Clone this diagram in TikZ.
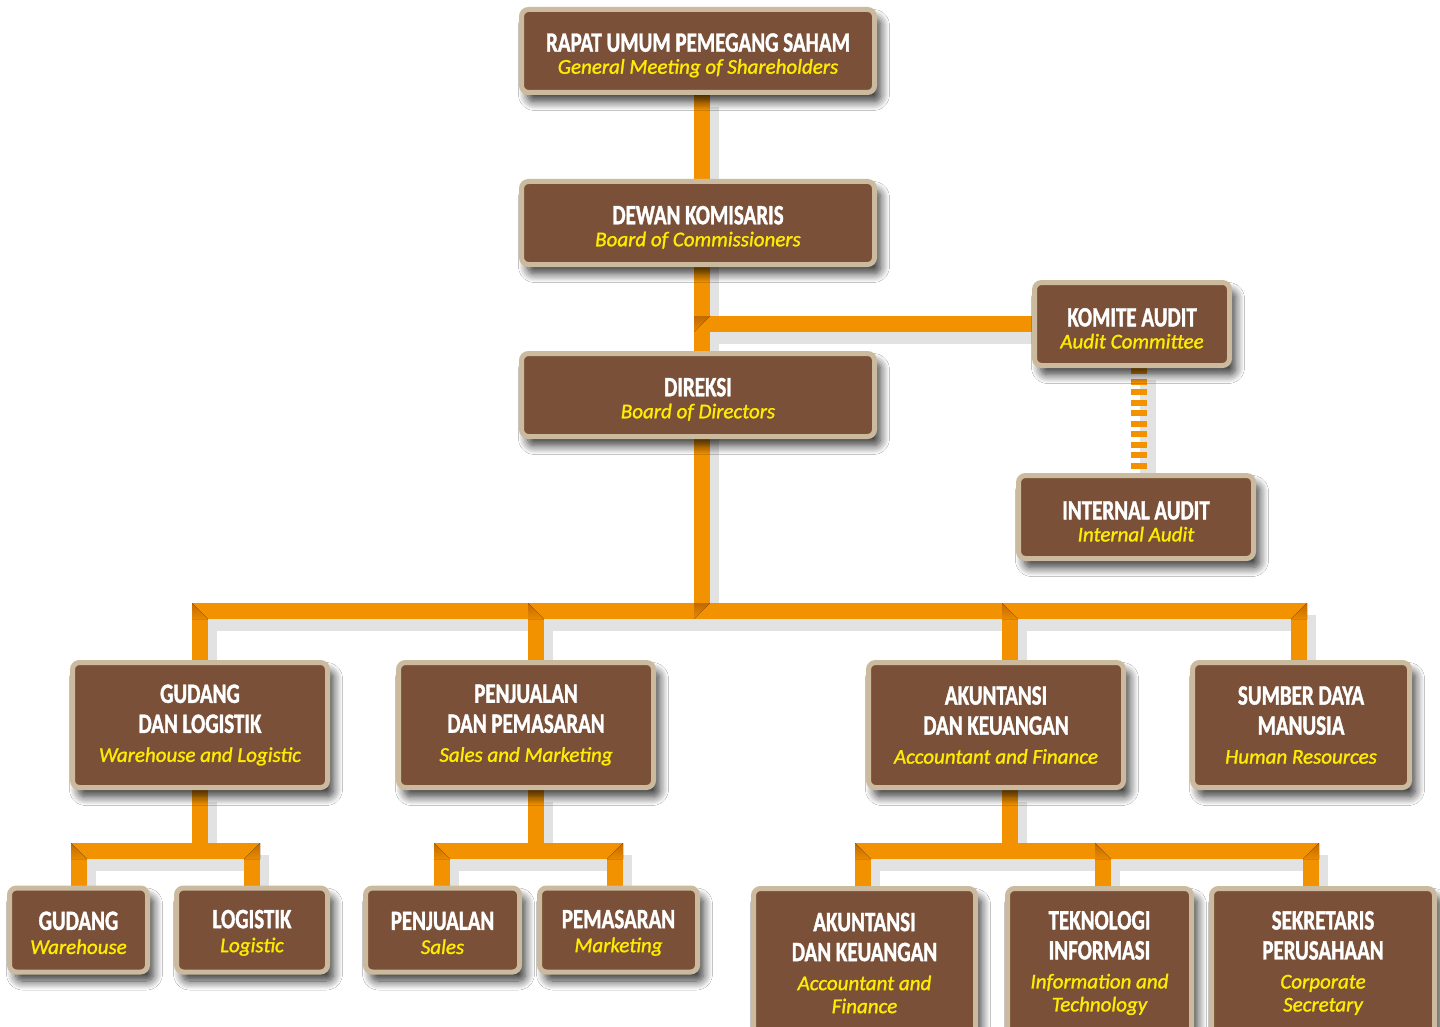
\documentclass[tikz,border=0pt]{standalone}
\usepackage{fontspec}
\usepackage{xcolor}
\usepackage{tikz}
\usetikzlibrary{calc}
\usetikzlibrary{positioning}
\usetikzlibrary{backgrounds}
\usetikzlibrary{shadows,shadows.blur}
\newfontfamily\headfont[FakeStretch=0.75,BoldFeatures={FakeBold=1.3}]{Carlito}
\newfontfamily\subtfont[FakeBold=1.3]{Carlito}
\definecolor{boxbrown}{HTML}{7A5039}
\definecolor{boxrim}{HTML}{CBBA9E}
\definecolor{lineorange}{HTML}{F39200}
\definecolor{bevelorange}{HTML}{C06A00}
\definecolor{subyellow}{HTML}{FFEC00}
\definecolor{shadowgrey}{HTML}{E2E2E2}
\newcommand{\headt}[1]{{\headfont\bfseries\fontsize{28}{30}\selectfont #1}}
\newcommand{\subt}[1]{{\subtfont\itshape\fontsize{21}{22}\selectfont\color{subyellow}#1}}
\newcommand{\lift}[1]{\rule{0pt}{#1}}
\tikzset{
  unitbox/.style={draw=boxrim, line width=5pt, fill=boxbrown, rounded corners=7pt,
    inner sep=0pt, text=white, align=center, font=\fontsize{20}{22}\selectfont,
    blur shadow={shadow xshift=6pt, shadow yshift=-9pt, shadow blur steps=12,
      shadow blur radius=9pt, shadow opacity=80}},
  conn/.style={draw=lineorange, line width=16pt, line join=miter},
  connshade/.style={draw=shadowgrey, line width=16pt, line join=miter},
  dashconn/.style={draw=lineorange, line width=16pt, dash pattern=on 6pt off 4.5pt},
  bevel/.style={top color=bevelorange, bottom color=lineorange!80!bevelorange},
}
% all connectors, drawn once as shadow and once in orange
\newcommand{\wires}[1]{%
  \draw[#1] (rups.south -| bus) -- (bus);
  \draw[#1] (ka.west -| bus) -- (ka.west);
  \draw[#1] (gdl.north -| d1) -- (d1) -- (d4) -- (sdm.north -| d4);
  \draw[#1] (d2) -- (pdp.north -| d2);
  \draw[#1] (d3) -- (adk.north -| d3);
  \draw[#1] (gdl.south -| b1) -- (b1);
  \draw[#1] (gd.north -| e1) -- (e1) -- (e2) -- (lg.north -| e2);
  \draw[#1] (pdp.south -| b2) -- (b2);
  \draw[#1] (pj.north -| e3) -- (e3) -- (e4) -- (pm.north -| e4);
  \draw[#1] (adk.south -| b3) -- (b3);
  \draw[#1] (aku.north -| e5) -- (e5) -- (e7) -- (sp.north -| e7);
  \draw[#1] (e6) -- (ti.north -| e6);
}
\begin{document}
\begin{tikzpicture}[x=1pt,y=-1pt]
\useasboundingbox (0,0) rectangle (1440,1027);
\clip (0,0) rectangle (1440,1027);

% junctions of the lines
\coordinate (bus) at (702,611);
\coordinate (d1) at (200,611);
\coordinate (d2) at (536,611);
\coordinate (d3) at (1010,611);
\coordinate (d4) at (1299,611);
\coordinate (b1) at (200,851);
\coordinate (b2) at (536,851);
\coordinate (b3) at (1010,851);
\coordinate (e1) at (79,851);
\coordinate (e2) at (252,851);
\coordinate (e3) at (442,851);
\coordinate (e4) at (615,851);
\coordinate (e5) at (863,851);
\coordinate (e6) at (1103,851);
\coordinate (e7) at (1311,851);
\coordinate (ad) at (1139,420);

% top
\node[unitbox, minimum width=353pt, minimum height=83pt] (rups) at (698,51)
  {\lift{27pt}\headt{RAPAT UMUM PEMEGANG SAHAM}\\\subt{General Meeting of Shareholders}};
\node[unitbox, minimum width=353pt, minimum height=83pt] (dk) at (698,223)
  {\lift{27pt}\headt{DEWAN KOMISARIS}\\\subt{Board of Commissioners}};
\node[unitbox, minimum width=353pt, minimum height=83pt] (dir) at (698,395)
  {\lift{27pt}\headt{DIREKSI}\\\subt{Board of Directors}};
\node[unitbox, minimum width=195pt, minimum height=83pt] (ka) at (1132,324)
  {\lift{27pt}\headt{KOMITE AUDIT}\\\subt{Audit Committee}};
\node[unitbox, minimum width=235pt, minimum height=83pt] (ia) at (1136,517)
  {\lift{27pt}\headt{INTERNAL AUDIT}\\\subt{Internal Audit}};

% divisions
\node[unitbox, minimum width=255pt, minimum height=125pt] (gdl) at (200,725)
  {\headt{GUDANG}\\[8pt]\headt{DAN LOGISTIK}\\[7pt]\subt{Warehouse and Logistic}};
\node[unitbox, minimum width=255pt, minimum height=125pt] (pdp) at (526,725)
  {\headt{PENJUALAN}\\[8pt]\headt{DAN PEMASARAN}\\[7pt]\subt{Sales and Marketing}};
\node[unitbox, minimum width=255pt, minimum height=125pt] (adk) at (996,725)
  {\headt{AKUNTANSI}\\[8pt]\headt{DAN KEUANGAN}\\[7pt]\subt{Accountant and Finance}};
\node[unitbox, minimum width=217pt, minimum height=125pt] (sdm) at (1301,725)
  {\headt{SUMBER DAYA}\\[8pt]\headt{MANUSIA}\\[7pt]\subt{Human Resources}};

% sections
\node[unitbox, minimum width=138pt, minimum height=84pt] (gd) at (78.5,930)
  {\lift{24pt}\headt{GUDANG}\\[2pt]\subt{Warehouse}};
\node[unitbox, minimum width=151pt, minimum height=84pt] (lg) at (252,930)
  {\lift{24pt}\headt{LOGISTIK}\\[2pt]\subt{Logistic}};
\node[unitbox, minimum width=154pt, minimum height=84pt] (pj) at (442.5,930)
  {\lift{24pt}\headt{PENJUALAN}\\[2pt]\subt{Sales}};
\node[unitbox, minimum width=158pt, minimum height=84pt] (pm) at (618.5,930)
  {\lift{24pt}\headt{PEMASARAN}\\[2pt]\subt{Marketing}};
\node[unitbox, minimum width=222pt, minimum height=149pt] (aku) at (864.5,963)
  {\headt{AKUNTANSI}\\[8pt]\headt{DAN KEUANGAN}\\[7pt]\subt{Accountant and}\\[1pt]\subt{Finance}};
\node[unitbox, minimum width=184pt, minimum height=149pt] (ti) at (1099.5,963)
  {\headt{TEKNOLOGI}\\[8pt]\headt{INFORMASI}\\[7pt]\subt{Information and}\\[1pt]\subt{Technology}};
\node[unitbox, minimum width=223pt, minimum height=149pt] (sp) at (1323,963)
  {\headt{SEKRETARIS}\\[8pt]\headt{PERUSAHAAN}\\[7pt]\subt{Corporate}\\[1pt]\subt{Secretary}};

\begin{scope}[on background layer]
  \fill[white] (0,0) rectangle (1440,1027);
  \begin{scope}[transform canvas={shift={(9pt,-12pt)}}]
    \wires{connshade}
    \draw[connshade] (ka.south -| ad) -- (ia.north -| ad);
  \end{scope}
  \wires{conn}
  \draw[dashconn] (ka.south -| ad) -- (ia.north -| ad);
  % shaded corners
  \fill[bevel] (192,603) -- (208,619) -- (192,619) -- cycle;
  \fill[bevel] (528,603) -- (544,619) -- (528,619) -- cycle;
  \fill[bevel] (1002,603) -- (1018,619) -- (1002,619) -- cycle;
  \fill[bevel] (1307,603) -- (1291,619) -- (1307,619) -- cycle;
  \fill[bevel] (694,603) -- (710,603) -- (694,619) -- cycle;
  \fill[bevel] (694,316) -- (710,316) -- (694,332) -- cycle;
  \fill[bevel] (71,843) -- (87,859) -- (71,859) -- cycle;
  \fill[bevel] (260,843) -- (244,859) -- (260,859) -- cycle;
  \fill[bevel] (434,843) -- (450,859) -- (434,859) -- cycle;
  \fill[bevel] (623,843) -- (607,859) -- (623,859) -- cycle;
  \fill[bevel] (855,843) -- (871,859) -- (855,859) -- cycle;
  \fill[bevel] (1095,843) -- (1111,859) -- (1095,859) -- cycle;
  \fill[bevel] (1319,843) -- (1303,859) -- (1319,859) -- cycle;
\end{scope}
\end{tikzpicture}
\end{document}
